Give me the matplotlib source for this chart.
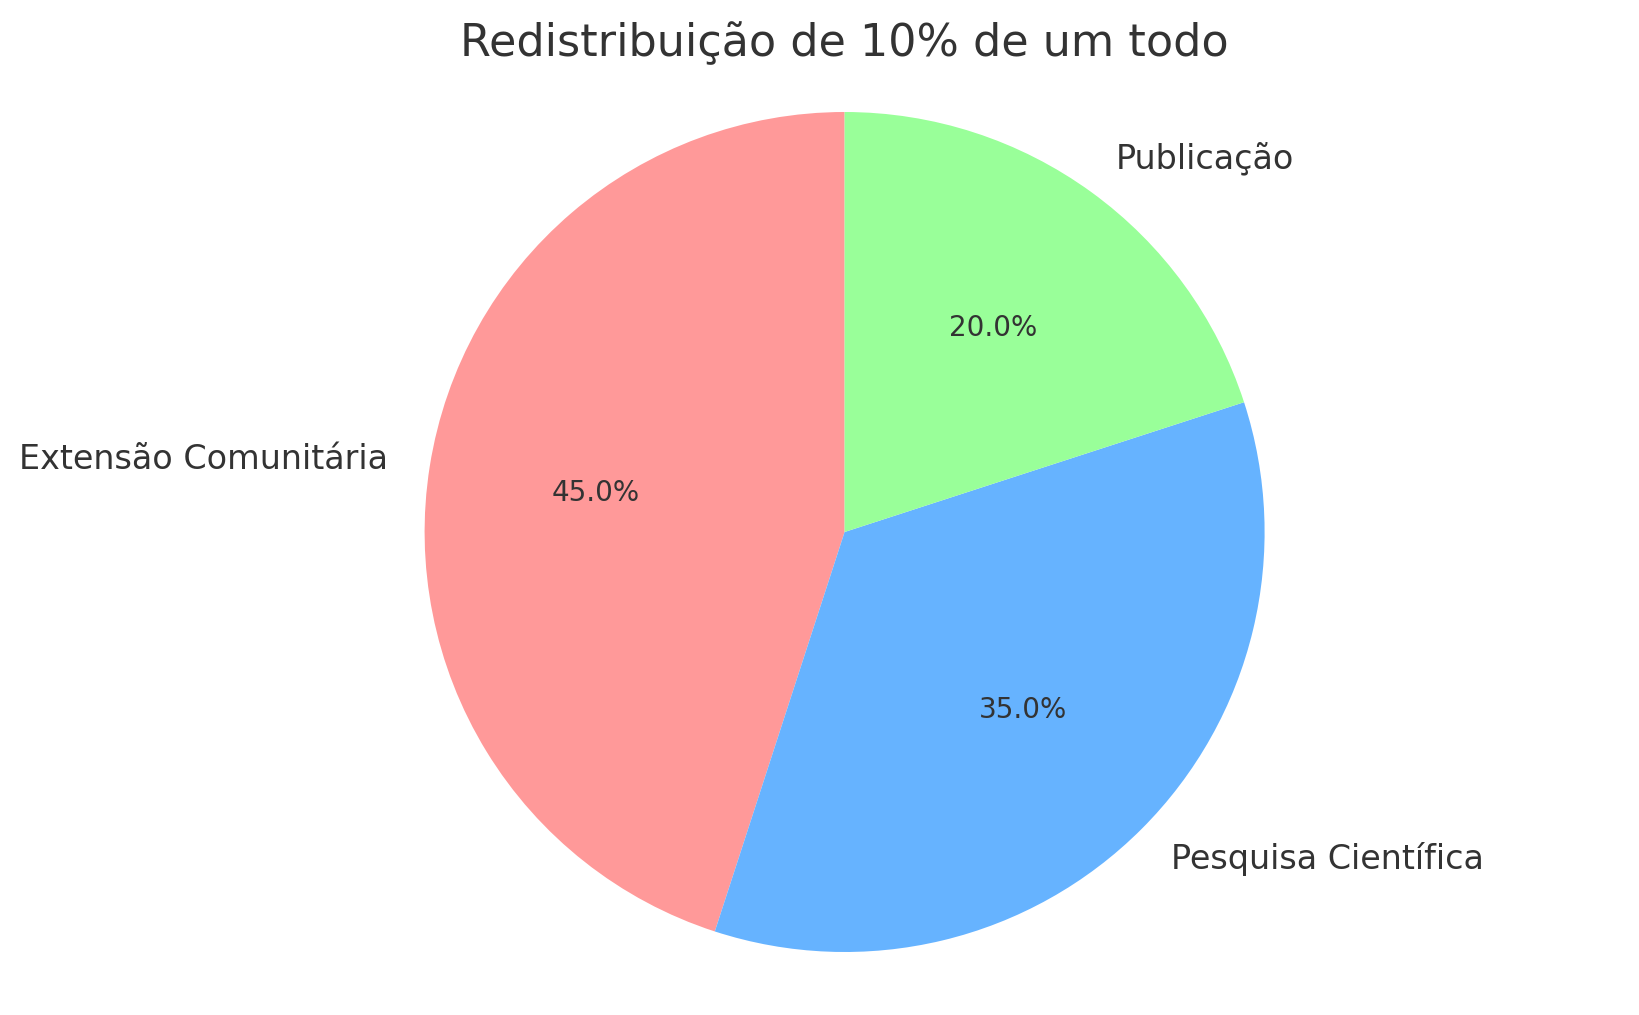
import matplotlib
matplotlib.use("Agg")
import matplotlib.pyplot as plt

# data
labels = ['Extensão Comunitária', 'Pesquisa Científica', 'Publicação']
sizes = [45, 35, 20]
colors = ['#ff9999', '#66b3ff', '#99ff99']

plt.rcParams['text.color'] = '#333333'

W, H = 1640, 1015
fig = plt.figure(figsize=(W / 200, H / 200), dpi=200)
# pie axes placed so the circle sits where the reference has it
ax_w, ax_h = 1.03, 1050 / H
ax = fig.add_axes([0.515 - ax_w / 2, (H - 532) / H - ax_h / 2, ax_w, ax_h])
wedges, texts, autotexts = ax.pie(sizes, labels=labels, colors=colors,
                                  autopct='%1.1f%%', startangle=90,
                                  textprops={'fontsize': 12})
for t in autotexts:
    t.set_fontsize(10)
ax.set_aspect('auto')
half = 1.25 * (ax_w * W) / (ax_h * H)
ax.set_xlim(-half, half)
ax.set_ylim(-1.25, 1.25)
fig.text(0.515, 0.945, 'Redistribuição de 10% de um todo', fontsize=16,
         ha='center', va='baseline')

fig.savefig('out.png', dpi=200)
